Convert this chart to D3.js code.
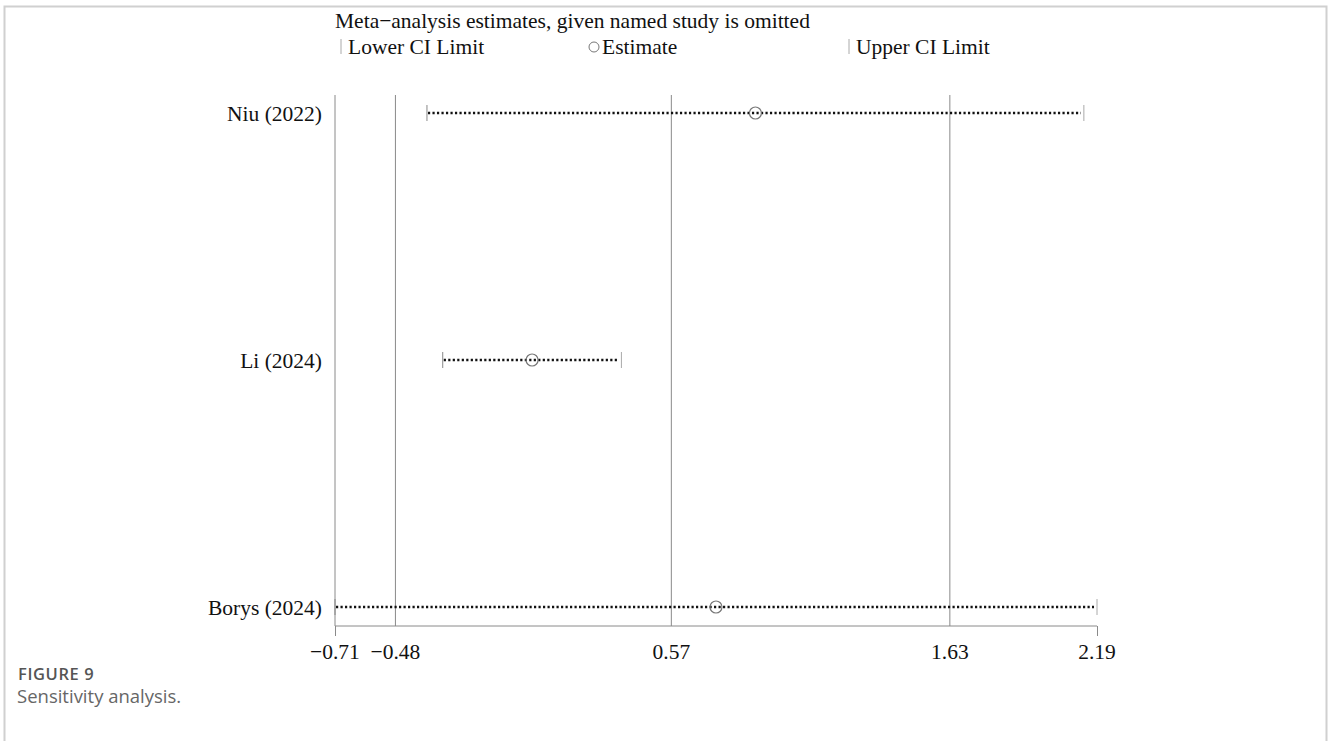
<!DOCTYPE html>
<html>
<head>
<meta charset="utf-8">
<script src="https://cdn.jsdelivr.net/npm/d3@7"></script>
<style>
  body { margin: 0; background: #fff; }
  svg { display: block; }
</style>
</head>
<body>
<svg width="1328" height="741"></svg>
<script>
// studies omitted, top to bottom
var studies = ['Niu (2022)', 'Li (2024)', 'Borys (2024)'];
var estimates = [0.89, 0.04, 0.74];
var lowerCI = [-0.36, -0.30, -0.71];
var upperCI = [2.14, 0.38, 2.19];

// overall estimate and its CI (gray reference lines)
var refLines = [-0.48, 0.57, 1.63];
var tickValues = [-0.71, -0.48, 0.57, 1.63, 2.19];

var svg = d3.select('svg');
var serif = 'Liberation Serif, Times New Roman, serif';
var fs = 21.5;

// light frame round the figure
svg.append('path')
    .attr('d', 'M4.5,745 L4.5,6.5 L1326.5,6.5 L1326.5,745')
    .attr('fill', 'none')
    .attr('stroke', '#d0d0d0')
    .attr('stroke-width', 2);

var xScale = d3.scaleLinear()
    .domain([-0.71, 2.19])
    .range([335, 1097]);

var yScale = d3.scalePoint()
    .domain(studies)
    .range([113, 607]);

var axisY = 626;
var topY = 95;

// vertical reference lines
svg.selectAll('line.ref')
    .data(refLines)
    .enter().append('line')
    .attr('class', 'ref')
    .attr('x1', d => xScale(d))
    .attr('x2', d => xScale(d))
    .attr('y1', topY)
    .attr('y2', axisY)
    .attr('stroke', '#8a8a8a')
    .attr('stroke-width', 1);

// left border line of plot region
svg.append('line')
    .attr('x1', xScale(-0.71)).attr('x2', xScale(-0.71))
    .attr('y1', topY).attr('y2', axisY)
    .attr('stroke', '#8a8a8a');

// x axis
var xAxis = d3.axisBottom(xScale)
    .tickValues([-0.71, 2.19])
    .tickSize(10)
    .tickFormat('');

var gx = svg.append('g')
    .attr('class', 'x axis')
    .attr('transform', 'translate(0,' + axisY + ')')
    .call(xAxis);
gx.select('.domain').attr('stroke', '#8a8a8a').attr('d', 'M' + xScale(-0.71) + ',0H' + xScale(2.19));
gx.selectAll('.tick line').attr('stroke', '#8a8a8a');

svg.selectAll('text.tick')
    .data(tickValues)
    .enter().append('text')
    .attr('class', 'tick')
    .attr('x', d => xScale(d))
    .attr('y', 659)
    .attr('text-anchor', 'middle')
    .attr('font-family', serif)
    .attr('font-size', fs)
    .attr('fill', '#111')
    .text(d => d3.format('.2f')(d).replace('-', '\u2212'));

// rows
var rows = studies.map(function(s, i) {
    return {name: s, est: estimates[i], lo: lowerCI[i], hi: upperCI[i]};
});

var row = svg.selectAll('g.row')
    .data(rows)
    .enter().append('g')
    .attr('class', 'row')
    .attr('transform', d => 'translate(0,' + yScale(d.name) + ')');

row.append('line')
    .attr('x1', d => xScale(d.lo) + 1)
    .attr('x2', d => xScale(d.hi) - 3)
    .attr('y1', 0).attr('y2', 0)
    .attr('stroke', '#111')
    .attr('stroke-width', 2.6)
    .attr('stroke-dasharray', '2.2,2.3');

row.append('line')
    .attr('x1', d => xScale(d.lo)).attr('x2', d => xScale(d.lo))
    .attr('y1', -8).attr('y2', 8)
    .attr('stroke', '#888');

row.append('line')
    .attr('x1', d => xScale(d.hi)).attr('x2', d => xScale(d.hi))
    .attr('y1', -8).attr('y2', 8)
    .attr('stroke', '#aaa');

row.append('circle')
    .attr('cx', d => xScale(d.est))
    .attr('cy', 0)
    .attr('r', 6)
    .attr('fill', 'none')
    .attr('stroke', '#777')
    .attr('stroke-width', 1.2);

row.append('text')
    .attr('x', 322)
    .attr('y', 0)
    .attr('dy', '0.35em')
    .attr('text-anchor', 'end')
    .attr('font-family', serif)
    .attr('font-size', fs)
    .attr('fill', '#111')
    .text(d => d.name);

// title + legend
svg.append('text')
    .attr('x', 335).attr('y', 28)
    .attr('font-family', serif).attr('font-size', fs).attr('fill', '#111')
    .text('Meta\u2212analysis estimates, given named study is omitted');

svg.append('line')
    .attr('x1', 341).attr('x2', 341).attr('y1', 39).attr('y2', 54)
    .attr('stroke', '#aaa');
svg.append('text')
    .attr('x', 348).attr('y', 54)
    .attr('font-family', serif).attr('font-size', fs).attr('fill', '#111')
    .text('Lower CI Limit');

svg.append('circle')
    .attr('cx', 594).attr('cy', 47).attr('r', 5)
    .attr('fill', 'none').attr('stroke', '#777');
svg.append('text')
    .attr('x', 602).attr('y', 54)
    .attr('font-family', serif).attr('font-size', fs).attr('fill', '#111')
    .text('Estimate');

svg.append('line')
    .attr('x1', 849).attr('x2', 849).attr('y1', 39).attr('y2', 54)
    .attr('stroke', '#aaa');
svg.append('text')
    .attr('x', 856).attr('y', 54)
    .attr('font-family', serif).attr('font-size', fs).attr('fill', '#111')
    .text('Upper CI Limit');

// caption
svg.append('text')
    .attr('x', 18).attr('y', 680)
    .attr('font-family', 'Open Sans, sans-serif').attr('font-size', 16.5)
    .attr('letter-spacing', 0.6)
    .attr('font-weight', 600).attr('fill', '#555')
    .text('FIGURE 9');
svg.append('text')
    .attr('x', 17).attr('y', 703)
    .attr('font-family', 'Open Sans, sans-serif').attr('font-size', 18.5)
    .attr('fill', '#666')
    .text('Sensitivity analysis.');
</script>
</body>
</html>
